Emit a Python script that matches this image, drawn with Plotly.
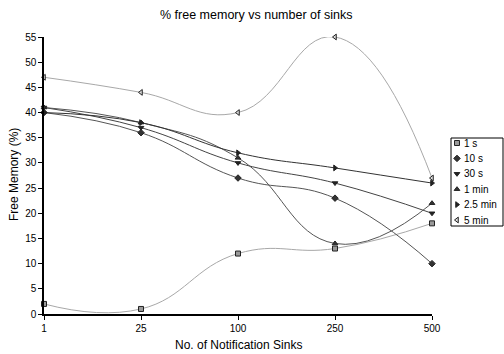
import plotly.graph_objects as go

categories = ["1", "25", "100", "250", "500"]
series_names = ["1 s", "10 s", "30 s", "1 min", "2.5 min", "5 min"]
s_1s = [2, 1, 12, 13, 18]
s_10s = [40, 36, 27, 23, 10]
s_30s = [41, 37, 30, 26, 20]
s_1min = [41, 38, 31, 14, 22]
s_25min = [40, 38, 32, 29, 26]
s_5min = [47, 44, 40, 55, 27]
y_ticks = list(range(0, 56, 5))

values = [s_1s, s_10s, s_30s, s_1min, s_25min, s_5min]
symbols = ["square", "diamond", "triangle-down", "triangle-up", "triangle-right", "triangle-left"]
line_colors = ["#a8a8a8", "#555555", "#444444", "#555555", "#333333", "#a8a8a8"]
marker_fill = ["#999999", "#333333", "#222222", "#333333", "#222222", "#dddddd"]
xs = list(range(len(categories)))

W, H = 504, 354
# plot area in pixels
PL, PR, PT, PB = 44, 432, 37, 314
# legend box in pixels
LL, LR, LT, LB = 451, 503, 138, 226
row_top, row_step = 143, 15.4
mark_x, text_x = 457, 461.5

fig = go.Figure()
for name, vals, sym, lc, mf in zip(series_names, values, symbols, line_colors, marker_fill):
    fig.add_trace(go.Scatter(
        x=xs, y=vals, name=name, mode="lines", showlegend=False, hoverinfo="skip",
        line=dict(shape="spline", smoothing=1.3, color=lc, width=1),
        cliponaxis=True, xaxis="x", yaxis="y",
    ))
for name, vals, sym, lc, mf in zip(series_names, values, symbols, line_colors, marker_fill):
    fig.add_trace(go.Scatter(
        x=xs, y=vals, name=name, mode="markers", showlegend=False,
        marker=dict(symbol=sym, size=5, color=mf, line=dict(color="#222222", width=1)),
        cliponaxis=False, xaxis="x", yaxis="y",
    ))

# custom legend
rows = [row_top + i * row_step for i in range(len(series_names))]
fig.add_trace(go.Scatter(
    x=[mark_x] * len(series_names), y=rows, mode="markers", showlegend=False, hoverinfo="skip",
    marker=dict(symbol=symbols, size=5, color=marker_fill, line=dict(color="#222222", width=1)),
    xaxis="x2", yaxis="y2", cliponaxis=False,
))
annotations = []
for name, ry in zip(series_names, rows):
    annotations.append(dict(x=text_x, y=ry, xref="x2", yref="y2", text=name, showarrow=False,
                            xanchor="left", yanchor="middle", font=dict(size=10)))
annotations += [
    dict(x=256 / W, y=1 - 15 / H, xref="paper", yref="paper", text="% free memory vs number of sinks",
         showarrow=False, xanchor="center", yanchor="middle", font=dict(size=12.5)),
    dict(x=238 / W, y=1 - 345 / H, xref="paper", yref="paper", text="No. of Notification Sinks",
         showarrow=False, xanchor="center", yanchor="middle", font=dict(size=12)),
    dict(x=14 / W, y=1 - 175 / H, xref="paper", yref="paper", text="Free Memory (%)", textangle=-90,
         showarrow=False, xanchor="center", yanchor="middle", font=dict(size=12)),
]

fig.update_layout(
    width=W, height=H,
    margin=dict(l=0, r=0, t=0, b=0, autoexpand=False),
    paper_bgcolor="white", plot_bgcolor="white",
    font=dict(family="Liberation Sans, Arial, sans-serif", size=10, color="black"),
    showlegend=False,
    annotations=annotations,
    shapes=[dict(type="rect", xref="paper", yref="paper", x0=LL / W, x1=LR / W,
                 y0=1 - LB / H, y1=1 - LT / H, line=dict(color="black", width=1), fillcolor="rgba(0,0,0,0)")],
    xaxis=dict(domain=[PL / W, PR / W], range=[0, 4], tickvals=xs, ticktext=categories,
               showgrid=False, zeroline=False, anchor="y",
               showline=True, linecolor="black", linewidth=1.5, ticks="outside", ticklen=4,
               tickcolor="black", tickfont=dict(size=10), automargin=False),
    yaxis=dict(domain=[1 - PB / H, 1 - PT / H], range=[0, 55], tickvals=y_ticks, anchor="x",
               showgrid=False, zeroline=False,
               showline=True, linecolor="black", linewidth=1.5, ticks="outside", ticklen=4,
               tickcolor="black", tickfont=dict(size=10), automargin=False),
    xaxis2=dict(domain=[LL / W, LR / W], range=[LL, LR], visible=False, anchor="y2", fixedrange=True),
    yaxis2=dict(domain=[1 - LB / H, 1 - LT / H], range=[LB, LT], visible=False, anchor="x2", fixedrange=True),
)

fig.write_html("out.html")
